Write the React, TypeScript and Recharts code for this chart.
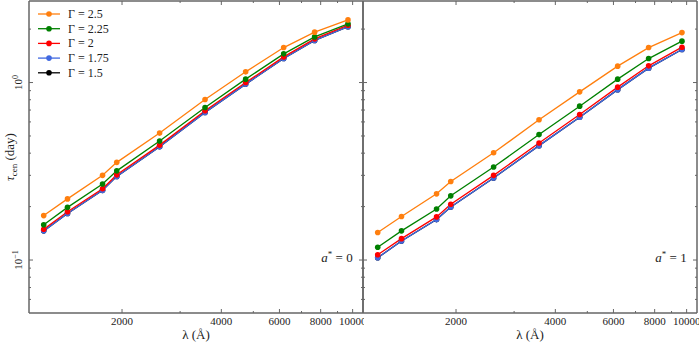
import React from "react";
import { LineChart, Line, XAxis, YAxis, ReferenceDot, Label } from "recharts";

// wavelengths (Angstrom) of the points
const wavelengths = [1158, 1367, 1746, 1928, 2600, 3570, 4740, 6180, 7670, 9680];

const gammaLabels = ["2.5", "2.25", "2", "1.75", "1.5"];
const gammaKeys = ["g250", "g225", "g200", "g175", "g150"];
const gammaColors = ["#ff7f0e", "#008000", "#ff0000", "#4169e1", "#000000"];

// a* = 0 panel, tau_cen in days
const a0G250 = [0.178, 0.221, 0.3, 0.355, 0.519, 0.802, 1.149, 1.574, 1.922, 2.254];
const a0G225 = [0.158, 0.198, 0.268, 0.318, 0.468, 0.723, 1.045, 1.451, 1.808, 2.141];
const a0G200 = [0.149, 0.187, 0.252, 0.302, 0.444, 0.693, 1.0, 1.395, 1.762, 2.105];
const a0G175 = [0.146, 0.183, 0.247, 0.296, 0.435, 0.679, 0.98, 1.367, 1.727, 2.063];
const a0G150 = [0.146, 0.183, 0.247, 0.296, 0.435, 0.679, 0.98, 1.367, 1.727, 2.063];

// a* = 1 panel
const a1G250 = [0.143, 0.176, 0.236, 0.277, 0.402, 0.617, 0.886, 1.237, 1.574, 1.912];
const a1G225 = [0.118, 0.146, 0.194, 0.23, 0.334, 0.509, 0.736, 1.045, 1.365, 1.711];
const a1G200 = [0.107, 0.132, 0.175, 0.206, 0.3, 0.456, 0.66, 0.942, 1.242, 1.582];
const a1G175 = [0.103, 0.128, 0.169, 0.199, 0.29, 0.441, 0.638, 0.912, 1.205, 1.535];
const a1G150 = [0.103, 0.128, 0.169, 0.199, 0.29, 0.441, 0.638, 0.912, 1.205, 1.535];

const xTicks = [2000, 3000, 4000, 5000, 6000, 7000, 8000, 9000, 10000];
const xMajor = [2000, 4000, 6000, 8000, 10000];
const yTicks = [0.06, 0.07, 0.08, 0.09, 0.1, 0.2, 0.3, 0.4, 0.5, 0.6, 0.7, 0.8, 0.9, 1, 2];

const X_DOMAIN = [1045, 10750];
const Y_DOMAIN = [0.0503, 2.88];

const FONT = "Liberation Serif, DejaVu Serif, serif";
const AXIS = "#666666";
const TEXT = "#222222";

const buildRows = (series: number[][]) =>
  wavelengths.map((lam, i) => {
    const row: any = { lam };
    gammaKeys.forEach((k, j) => (row[k] = series[j][i]));
    return row;
  });

const dataA0 = buildRows([a0G250, a0G225, a0G200, a0G175, a0G150]);
const dataA1 = buildRows([a1G250, a1G225, a1G200, a1G175, a1G150]);

const isDecade = (v: number) => Math.abs(Math.log10(v) - Math.round(Math.log10(v))) < 1e-6;

const BottomTick = (p: any) => {
  const { x, y, payload } = p;
  const major = xMajor.includes(payload.value);
  return (
    <g>
      <line x1={x} x2={x} y1={y} y2={y - (major ? 4 : 2)} stroke={AXIS} />
      {major && (
        <text x={x} y={y + 12} textAnchor="middle" style={{ fontSize: 11, fontFamily: FONT }} fill={TEXT}>
          {payload.value}
        </text>
      )}
    </g>
  );
};

const TopTick = (p: any) => {
  const { x, y, payload } = p;
  const major = xMajor.includes(payload.value);
  return <line x1={x} x2={x} y1={y} y2={y + (major ? 4 : 2)} stroke={AXIS} />;
};

const makeLeftTick = (showLabel: boolean) => (p: any) => {
  const { x, y, payload } = p;
  const v = payload.value;
  const major = isDecade(v);
  const e = Math.round(Math.log10(v));
  return (
    <g>
      <line x1={x} x2={x + (major ? 4 : 2)} y1={y} y2={y} stroke={AXIS} />
      {showLabel && major && (
        <text
          transform={`translate(${x - 7}, ${y}) rotate(-90)`}
          textAnchor="middle"
          style={{ fontSize: 11, fontFamily: FONT }}
          fill={TEXT}
        >
          10
          <tspan dy={-4} style={{ fontSize: 8 }}>
            {e < 0 ? `\u2212${-e}` : `${e}`}
          </tspan>
        </text>
      )}
    </g>
  );
};

const RightTick = (p: any) => {
  const { x, y, payload } = p;
  const major = isDecade(payload.value);
  return <line x1={x} x2={x - (major ? 4 : 2)} y1={y} y2={y} stroke={AXIS} />;
};

const XTitle = (p: any) => {
  const vb = p.viewBox;
  return (
    <text x={vb.x + vb.width / 2} y={339} textAnchor="middle" style={{ fontSize: 13, fontFamily: FONT }} fill={TEXT}>
      λ (Å)
    </text>
  );
};

const YTitle = (p: any) => {
  const vb = p.viewBox;
  const cy = vb.y + vb.height / 2;
  return (
    <text transform={`translate(14, ${cy}) rotate(-90)`} textAnchor="middle" style={{ fontSize: 13, fontFamily: FONT }} fill={TEXT}>
      <tspan fontStyle="italic">τ</tspan>
      <tspan dy={3} style={{ fontSize: 9 }}>cen</tspan>
      <tspan dy={-3}> (day)</tspan>
    </text>
  );
};

const spinLabel = (spin: string) => (p: any) => {
  const vb = p.viewBox;
  return (
    <text x={vb.x} y={vb.y + 5} textAnchor="end" style={{ fontSize: 13, fontFamily: FONT }} fill={TEXT}>
      <tspan fontStyle="italic">a</tspan>
      <tspan dy={-5} style={{ fontSize: 9 }}>*</tspan>
      <tspan dy={5}> = {spin}</tspan>
    </text>
  );
};

const axisLine = { stroke: AXIS, strokeWidth: 1.5 };

const Panel = ({ data, spin, showYLabels, width, yAxisWidth, rightMargin }: any) => (
  <LineChart width={width} height={343} data={data} margin={{ top: 0, right: rightMargin, bottom: 0, left: 0 }}>
    <XAxis
      dataKey="lam"
      type="number"
      scale="log"
      domain={X_DOMAIN}
      allowDataOverflow
      ticks={xTicks}
      interval={0}
      height={30}
      tickSize={0}
      tickMargin={0}
      tick={BottomTick}
      axisLine={axisLine}
      tickLine={false}
    >
      <Label content={XTitle} />
    </XAxis>
    <XAxis
      xAxisId="top"
      orientation="top"
      dataKey="lam"
      type="number"
      scale="log"
      domain={X_DOMAIN}
      allowDataOverflow
      ticks={xTicks}
      interval={0}
      height={1}
      tickSize={0}
      tickMargin={0}
      tick={TopTick}
      axisLine={axisLine}
      tickLine={false}
    />
    <YAxis
      type="number"
      scale="log"
      domain={Y_DOMAIN}
      allowDataOverflow
      ticks={yTicks}
      interval={0}
      width={yAxisWidth}
      tickSize={0}
      tickMargin={0}
      tick={makeLeftTick(showYLabels)}
      axisLine={axisLine}
      tickLine={false}
    >
      {showYLabels && <Label content={YTitle} />}
    </YAxis>
    <YAxis
      yAxisId="right"
      orientation="right"
      type="number"
      scale="log"
      domain={Y_DOMAIN}
      allowDataOverflow
      ticks={yTicks}
      interval={0}
      width={1}
      tickSize={0}
      tickMargin={0}
      tick={RightTick}
      axisLine={axisLine}
      tickLine={false}
    />
    {[4, 3, 2, 1, 0].map((j) => (
      <Line
        key={gammaKeys[j]}
        dataKey={gammaKeys[j]}
        stroke={gammaColors[j]}
        strokeWidth={1.3}
        dot={{ r: 2.8, fill: gammaColors[j], stroke: gammaColors[j], strokeWidth: 0 }}
        isAnimationActive={false}
      />
    ))}
    <ReferenceDot x={10000} y={0.104} r={0} fill="none" stroke="none" label={spinLabel(spin)} />
  </LineChart>
);

const LegendBox = () => (
  <svg width={130} height={85} style={{ position: "absolute", left: 0, top: 0 }}>
    {gammaLabels.map((g, i) => {
      const cy = 14 + i * 14.7;
      return (
        <g key={g}>
          <line x1={38} x2={60} y1={cy} y2={cy} stroke={gammaColors[i]} strokeWidth={1.3} />
          <circle cx={49} cy={cy} r={2.8} fill={gammaColors[i]} />
          <text x={68} y={cy + 4} style={{ fontSize: 12, fontFamily: FONT }} fill={TEXT}>
            Γ = {g}
          </text>
        </g>
      );
    })}
  </svg>
);

export default function App() {
  return (
    <div style={{ position: "absolute", left: 0, top: 0, width: 700, height: 343, background: "#fff", overflow: "hidden" }}>
      <div style={{ position: "absolute", left: 0, top: 0 }}>
        <Panel data={dataA0} spin="0" showYLabels width={364} yAxisWidth={29} rightMargin={0} />
      </div>
      <div style={{ position: "absolute", left: 362, top: 0 }}>
        <Panel data={dataA1} spin="1" showYLabels={false} width={337} yAxisWidth={1} rightMargin={1} />
      </div>
      <LegendBox />
    </div>
  );
}
